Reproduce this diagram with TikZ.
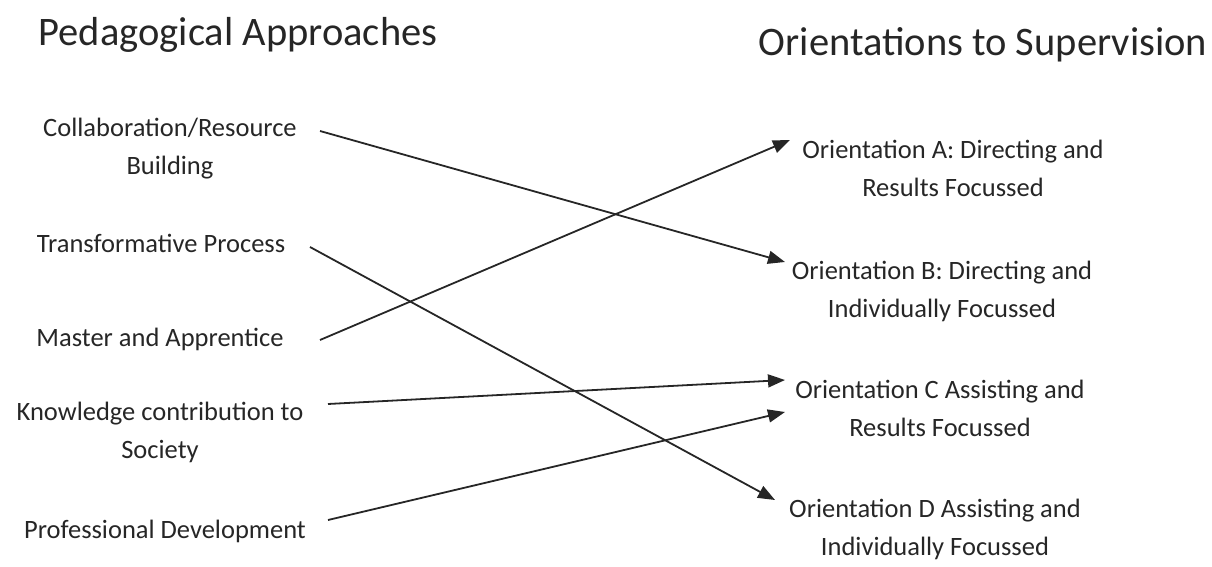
\documentclass[tikz,border=0pt]{standalone}
\usepackage{fontspec}
\setmainfont{Carlito}
\usetikzlibrary{arrows.meta,calc}
\begin{document}
\begin{tikzpicture}[x=1pt,y=-1pt,
  title/.style={inner sep=0pt,font=\fontsize{40.5}{46}\selectfont,text=black!85},
  item/.style={inner sep=0pt,align=center,font=\fontsize{26.5}{38}\selectfont,text=black!85},
  link/.style={line width=1.8pt,black!85,-{Triangle[length=17pt,width=13pt]}}]
\useasboundingbox (0,0) rectangle (1212,567);
% headings
\node[title] (ped) at (238,35) {Pedagogical Approaches};
\node[title] (ori) at (983,45) {Orientations to Supervision};
% pedagogical approaches
\node[item] (collab) at (170,149) {Collaboration/Resource\\Building};
\node[item] (transf) at (161,243) {Transformative Process};
\node[item] (master) at (160,339) {Master and Apprentice};
\node[item] (know)   at (160,432) {Knowledge contribution to\\Society};
\node[item] (prof)   at (165,531) {Professional Development};
% orientations
\node[item] (oa) at (953,168) {Orientation A: Directing and\\Results Focussed};
\node[item] (ob) at (942,291) {Orientation B: Directing and\\Individually Focussed};
\node[item] (oc) at (940,408) {Orientation C Assisting and\\Results Focussed};
\node[item] (od) at (935,529) {Orientation D Assisting and\\Individually Focussed};
% links
\draw[link] ($(collab.center)+(150,-18)$) -- ($(ob.center)+(-157,-29)$);
\draw[link] ($(transf.center)+(149,4)$) -- ($(od.center)+(-160,-29)$);
\draw[link] ($(master.center)+(160,1)$) -- ($(oa.center)+(-163,-28)$);
\draw[link] ($(know.center)+(168,-28)$) -- ($(oc.center)+(-155,-28)$);
\draw[link] ($(prof.center)+(163,-11)$) -- ($(oc.center)+(-155,4)$);
\end{tikzpicture}
\end{document}
